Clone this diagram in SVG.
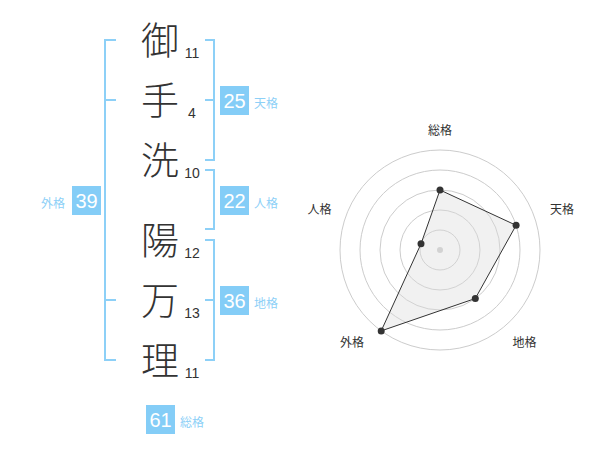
<svg xmlns="http://www.w3.org/2000/svg" width="600" height="470" viewBox="0 0 600 470">
<style>
.kanji{font-family:"Noto Sans CJK JP","Noto Sans CJK SC",sans-serif;font-size:38px;font-weight:300;fill:#333;text-anchor:middle}
.num{font-family:"Liberation Sans",Arial,sans-serif;font-size:14px;fill:#333;text-anchor:middle}
.box{fill:#84cdf7}
.boxt{font-family:"Liberation Sans",Arial,sans-serif;font-size:20px;fill:#fff;text-anchor:middle}
.lab{font-family:"Noto Sans CJK JP","Noto Sans CJK SC",sans-serif;font-size:12px;fill:#8dd0f7}
.br{fill:none;stroke:#8dd0f7;stroke-width:2}
.ring{fill:none;stroke:#cccccc;stroke-width:1}
.rlab{font-family:"Noto Sans CJK JP","Noto Sans CJK SC",sans-serif;font-size:12px;fill:#333;text-anchor:middle}
.pt{fill:#333}
</style>
<rect width="600" height="470" fill="#fff"/>
<g id="connectors">
<path class="br" d="M116,40H105V360H116M105,100H116M105,300H116"/>
<path class="br" d="M205,40H214V160H205M205,100H214"/>
<path class="br" d="M205,170H214V229H205"/>
<path class="br" d="M205,240H214V360H205M205,300H214"/>
</g>
<g id="char1"><text class="kanji" x="160" y="54">御</text><text class="num" x="192" y="58">11</text></g>
<g id="char2"><text class="kanji" x="160" y="114">手</text><text class="num" x="192" y="118">4</text></g>
<g id="char3"><text class="kanji" x="160" y="174">洗</text><text class="num" x="192" y="178">10</text></g>
<g id="char4"><text class="kanji" x="160" y="254">陽</text><text class="num" x="192" y="258">12</text></g>
<g id="char5"><text class="kanji" x="160" y="314">万</text><text class="num" x="192" y="318">13</text></g>
<g id="char6"><text class="kanji" x="160" y="374">理</text><text class="num" x="192" y="378">11</text></g>
<g id="tenkaku"><rect class="box" x="220" y="86" width="29" height="29"/><text class="boxt" x="234.5" y="108">25</text><text class="lab" x="254" y="108">天格</text></g>
<g id="jinkaku"><rect class="box" x="220" y="186" width="29" height="29"/><text class="boxt" x="234.5" y="208">22</text><text class="lab" x="254" y="208">人格</text></g>
<g id="chikaku"><rect class="box" x="220" y="286" width="29" height="29"/><text class="boxt" x="234.5" y="308">36</text><text class="lab" x="254" y="308">地格</text></g>
<g id="gaikaku"><rect class="box" x="72" y="186" width="29" height="29"/><text class="boxt" x="86.5" y="208">39</text><text class="lab" x="41" y="208">外格</text></g>
<g id="soukaku"><rect class="box" x="146" y="405" width="29" height="29"/><text class="boxt" x="160.5" y="427">61</text><text class="lab" x="180" y="427">総格</text></g>
<g id="radar">
<circle class="ring" cx="440" cy="250" r="20"/>
<circle class="ring" cx="440" cy="250" r="40"/>
<circle class="ring" cx="440" cy="250" r="60"/>
<circle class="ring" cx="440" cy="250" r="80"/>
<circle class="ring" cx="440" cy="250" r="100"/>
<circle cx="440" cy="250" r="3" fill="#cccccc"/>
<polygon points="440,190 516.1,225.3 475.3,298.5 381.2,330.9 421,243.8" fill="#dddddd" fill-opacity="0.4" stroke="#333" stroke-width="1"/>
<circle class="pt" cx="440" cy="190" r="3.5"/>
<circle class="pt" cx="516.1" cy="225.3" r="3.5"/>
<circle class="pt" cx="475.3" cy="298.5" r="3.5"/>
<circle class="pt" cx="381.2" cy="330.9" r="3.5"/>
<circle class="pt" cx="421" cy="243.8" r="3.5"/>
<text class="rlab" x="440" y="135">総格</text>
<text class="rlab" x="562" y="213.5">天格</text>
<text class="rlab" x="319.5" y="213.5">人格</text>
<text class="rlab" x="524.5" y="346.5">地格</text>
<text class="rlab" x="352" y="346.5">外格</text>
</g>
</svg>
